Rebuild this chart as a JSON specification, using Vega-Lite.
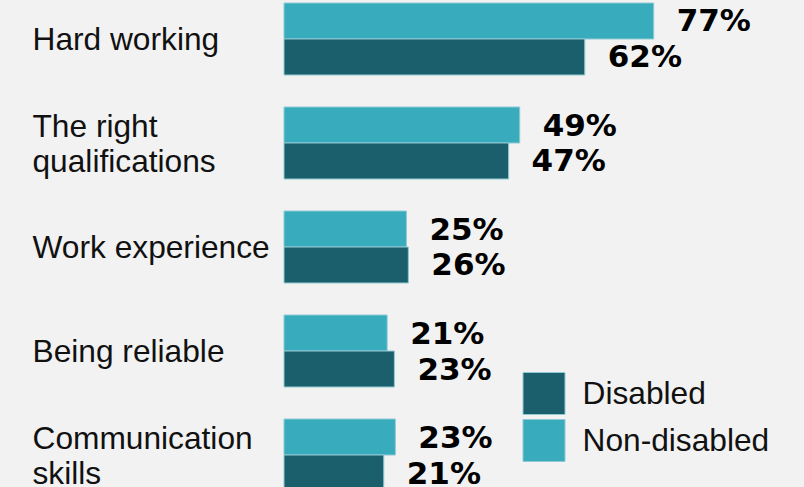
{
  "$schema": "https://vega.github.io/schema/vega-lite/v6.json",
  "autosize": "none",
  "width": 482,
  "height": 487,
  "padding": {"left": 284, "top": 0, "right": 38, "bottom": 0},
  "background": "#f2f2f2",
  "config": {"view": {"stroke": null}},
  "data": {
    "values": [
      {"trait": "Hard working", "group": "Non-disabled", "share": 0.767},
      {"trait": "Hard working", "group": "Disabled", "share": 0.624},
      {"trait": "The right qualifications", "group": "Non-disabled", "share": 0.489},
      {"trait": "The right qualifications", "group": "Disabled", "share": 0.466},
      {"trait": "Work experience", "group": "Non-disabled", "share": 0.254},
      {"trait": "Work experience", "group": "Disabled", "share": 0.258},
      {"trait": "Being reliable", "group": "Non-disabled", "share": 0.214},
      {"trait": "Being reliable", "group": "Disabled", "share": 0.229},
      {"trait": "Communication skills", "group": "Non-disabled", "share": 0.231},
      {"trait": "Communication skills", "group": "Disabled", "share": 0.207}
    ]
  },
  "encoding": {
    "y": {
      "field": "trait",
      "type": "nominal",
      "sort": null,
      "scale": {"range": [3, 491], "paddingInner": 0.3077, "paddingOuter": 0},
      "axis": {
        "title": null,
        "domain": false,
        "ticks": false,
        "tickSize": 0,
        "labelAlign": "left",
        "labelBaseline": "middle",
        "labelPadding": 252,
        "labelFont": "Liberation Sans",
        "labelFontSize": 31.7,
        "labelColor": "#111111",
        "labelLineHeight": 35,
        "labelLimit": 0,
        "labelOffset": {
          "condition": {"test": "datum.value == 'The right qualifications' || datum.value == 'Communication skills'", "value": -16},
          "value": 1
        },
        "labelExpr": "datum.value == 'The right qualifications' ? ['The right', 'qualifications'] : datum.value == 'Communication skills' ? ['Communication', 'skills'] : datum.value"
      }
    },
    "yOffset": {
      "field": "group",
      "type": "nominal",
      "sort": ["Non-disabled", "Disabled"],
      "scale": {"paddingInner": 0, "paddingOuter": 0}
    },
    "x": {
      "field": "share",
      "type": "quantitative",
      "scale": {"domain": [0, 1], "nice": false},
      "axis": null
    }
  },
  "layer": [
    {
      "mark": {"type": "bar", "stroke": "#8fcad4", "strokeWidth": 1},
      "encoding": {
        "color": {
          "field": "group",
          "type": "nominal",
          "scale": {"domain": ["Disabled", "Non-disabled"], "range": ["#1c5f6c", "#38abbd"]},
          "legend": {
            "title": null,
            "orient": "none",
            "legendX": 238.5,
            "legendY": 372,
            "padding": 0,
            "symbolType": "square",
            "symbolSize": 1764,
            "symbolStrokeColor": "#8fcad4",
            "symbolStrokeWidth": 1,
            "symbolOpacity": 1,
            "labelFont": "Liberation Sans",
            "labelFontSize": 31.7,
            "labelColor": "#111111",
            "labelOffset": 17,
            "rowPadding": 0,
            "labelLimit": 0
          }
        }
      }
    },
    {
      "mark": {
        "type": "text",
        "align": "left",
        "baseline": "middle",
        "dx": 23,
        "dy": 1.5,
        "font": "DejaVu Sans",
        "fontWeight": "bold",
        "fontSize": 31,
        "color": "#000000"
      },
      "encoding": {
        "text": {"field": "share", "type": "quantitative", "format": ".0%"}
      }
    }
  ]
}
